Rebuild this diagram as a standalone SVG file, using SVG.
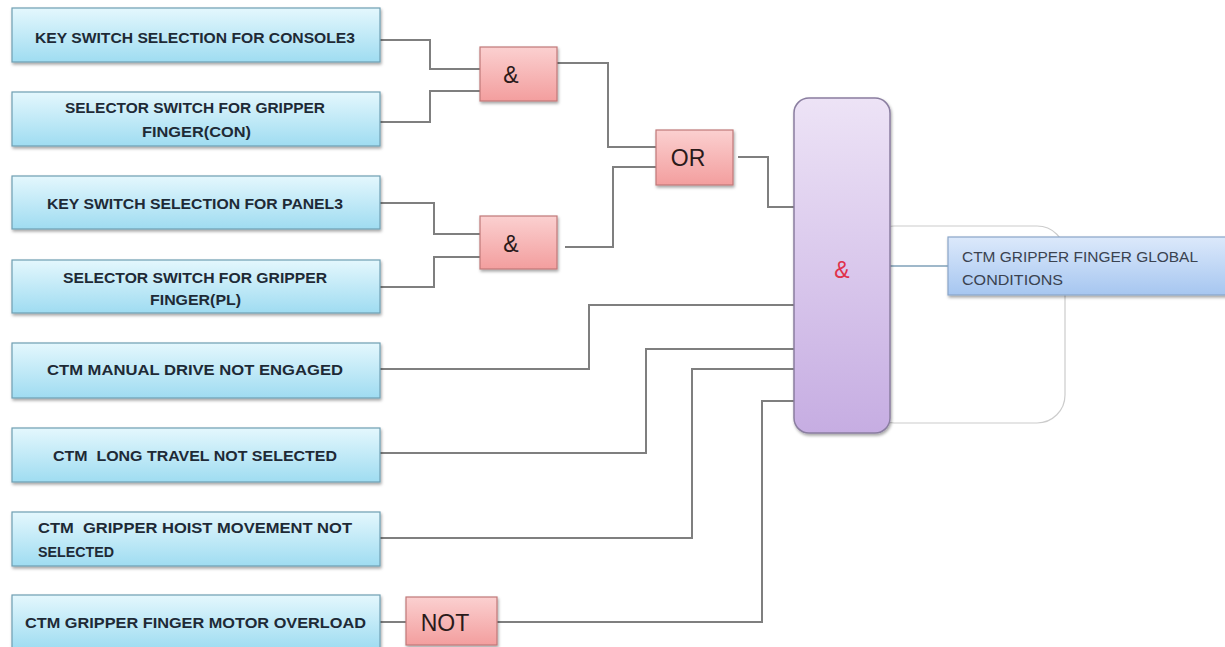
<svg xmlns="http://www.w3.org/2000/svg" width="1225" height="647" viewBox="0 0 1225 647">
<defs>
<linearGradient id="gIn" x1="0" y1="0" x2="0" y2="1">
<stop offset="0" stop-color="#e4f7fd"/>
<stop offset="1" stop-color="#9fdcf1"/>
</linearGradient>
<linearGradient id="gGate" x1="0" y1="0" x2="0" y2="1">
<stop offset="0" stop-color="#fbd0d0"/>
<stop offset="1" stop-color="#f39e9e"/>
</linearGradient>
<linearGradient id="gBig" x1="0" y1="0" x2="0" y2="1">
<stop offset="0" stop-color="#ede3f6"/>
<stop offset="1" stop-color="#c6ade2"/>
</linearGradient>
<linearGradient id="gOut" x1="0" y1="0" x2="0" y2="1">
<stop offset="0" stop-color="#dce9fb"/>
<stop offset="1" stop-color="#a6c6f0"/>
</linearGradient>
<filter id="sh" x="-10%" y="-20%" width="120%" height="150%">
<feDropShadow dx="1" dy="2" stdDeviation="1.5" flood-color="#000" flood-opacity="0.35"/>
</filter>
</defs>
<style>
.in{fill:url(#gIn);stroke:#6f9fb2;stroke-width:1.2;filter:url(#sh)}
.gate{fill:url(#gGate);stroke:#c07878;stroke-width:1.2;filter:url(#sh)}
.t{font-family:"Liberation Sans",Arial,sans-serif;font-weight:bold;font-size:15px;fill:#1e2a36}
.gt{font-family:"Liberation Sans",Arial,sans-serif;font-size:23px;fill:#2a1a1a}
.w{fill:none;stroke:#7f7f7f;stroke-width:2}
.ot{font-family:"Liberation Sans",Arial,sans-serif;font-size:15px;fill:#3a4250}
</style>
<rect width="1225" height="647" fill="#ffffff"/>
<rect x="866" y="226" width="199" height="197" rx="28" fill="none" stroke="#cccccc" stroke-width="1.2"/>
<g id="connectors">
<polyline class="w" points="380,40 430,40 430,69 480,69"/>
<polyline class="w" points="380,122 430,122 430,91 480,91"/>
<polyline class="w" points="557,63 608,63 608,147 656,147"/>
<polyline class="w" points="380,203 434,203 434,234 480,234"/>
<polyline class="w" points="380,287 434,287 434,257 480,257"/>
<polyline class="w" points="565,247 613,247 613,167 656,167"/>
<polyline class="w" points="738,157 768,157 768,207 794,207"/>
<polyline class="w" points="380,369 589,369 589,305 794,305"/>
<polyline class="w" points="380,453 646,453 646,349 794,349"/>
<polyline class="w" points="380,538 692,538 692,369 794,369"/>
<polyline class="w" points="380,622 406,622"/>
<polyline class="w" points="497,622 762,622 762,401 794,401"/>
<line x1="890" y1="266" x2="948" y2="266" stroke="#7fa0b8" stroke-width="1.5"/>
</g>
<g id="in1"><rect class="in" x="12" y="8" width="368" height="54"/><text class="t" x="35" y="43" textLength="320" lengthAdjust="spacingAndGlyphs">KEY SWITCH SELECTION FOR CONSOLE3</text></g>
<g id="in2"><rect class="in" x="12" y="92" width="368" height="54"/><text class="t" x="65" y="113" textLength="260" lengthAdjust="spacingAndGlyphs">SELECTOR SWITCH FOR GRIPPER</text><text class="t" x="142" y="137" textLength="109" lengthAdjust="spacingAndGlyphs">FINGER(CON)</text></g>
<g id="in3"><rect class="in" x="12" y="176" width="368" height="53"/><text class="t" x="47" y="209" textLength="296" lengthAdjust="spacingAndGlyphs">KEY SWITCH SELECTION FOR PANEL3</text></g>
<g id="in4"><rect class="in" x="12" y="260" width="368" height="53"/><text class="t" x="63" y="283" textLength="264" lengthAdjust="spacingAndGlyphs">SELECTOR SWITCH FOR GRIPPER</text><text class="t" x="150" y="305" textLength="91" lengthAdjust="spacingAndGlyphs">FINGER(PL)</text></g>
<g id="in5"><rect class="in" x="12" y="343" width="368" height="55"/><text class="t" x="47" y="375" textLength="296" lengthAdjust="spacingAndGlyphs">CTM MANUAL DRIVE NOT ENGAGED</text></g>
<g id="in6"><rect class="in" x="12" y="428" width="368" height="54"/><text class="t" x="53" y="461" textLength="284" lengthAdjust="spacingAndGlyphs" xml:space="preserve">CTM  LONG TRAVEL NOT SELECTED</text></g>
<g id="in7"><rect class="in" x="12" y="512" width="368" height="54"/><text class="t" x="38" y="533" textLength="314" lengthAdjust="spacingAndGlyphs" xml:space="preserve">CTM  GRIPPER HOIST MOVEMENT NOT</text><text class="t" x="38" y="557" textLength="76" lengthAdjust="spacingAndGlyphs">SELECTED</text></g>
<g id="in8"><rect class="in" x="12" y="595" width="368" height="54"/><text class="t" x="25" y="628" textLength="341" lengthAdjust="spacingAndGlyphs">CTM GRIPPER FINGER MOTOR OVERLOAD</text></g>
<g id="and1"><rect class="gate" x="480" y="47" width="77" height="54"/><text class="gt" x="511" y="83" text-anchor="middle">&amp;</text></g>
<g id="and2"><rect class="gate" x="480" y="216" width="77" height="53"/><text class="gt" x="511" y="252" text-anchor="middle">&amp;</text></g>
<g id="or"><rect class="gate" x="656" y="130" width="77" height="55"/><text class="gt" x="688" y="166" text-anchor="middle">OR</text></g>
<g id="not"><rect class="gate" x="406" y="597" width="91" height="48"/><text class="gt" x="445" y="631" text-anchor="middle" font-size="21">NOT</text></g>
<g id="bigand"><rect x="794" y="98" width="96" height="335" rx="15" fill="url(#gBig)" stroke="#8a7ea0" stroke-width="1.5" filter="url(#sh)"/><text x="842" y="278" text-anchor="middle" font-family="Liberation Sans,Arial,sans-serif" font-size="23" fill="#e0314a">&amp;</text></g>
<g id="out"><rect x="948" y="237" width="280" height="58" fill="url(#gOut)" stroke="#8aa6c8" stroke-width="1.2" filter="url(#sh)"/><text class="ot" x="962" y="262" textLength="236" lengthAdjust="spacingAndGlyphs">CTM GRIPPER FINGER GLOBAL</text><text class="ot" x="962" y="285" textLength="101" lengthAdjust="spacingAndGlyphs">CONDITIONS</text></g>
</svg>
